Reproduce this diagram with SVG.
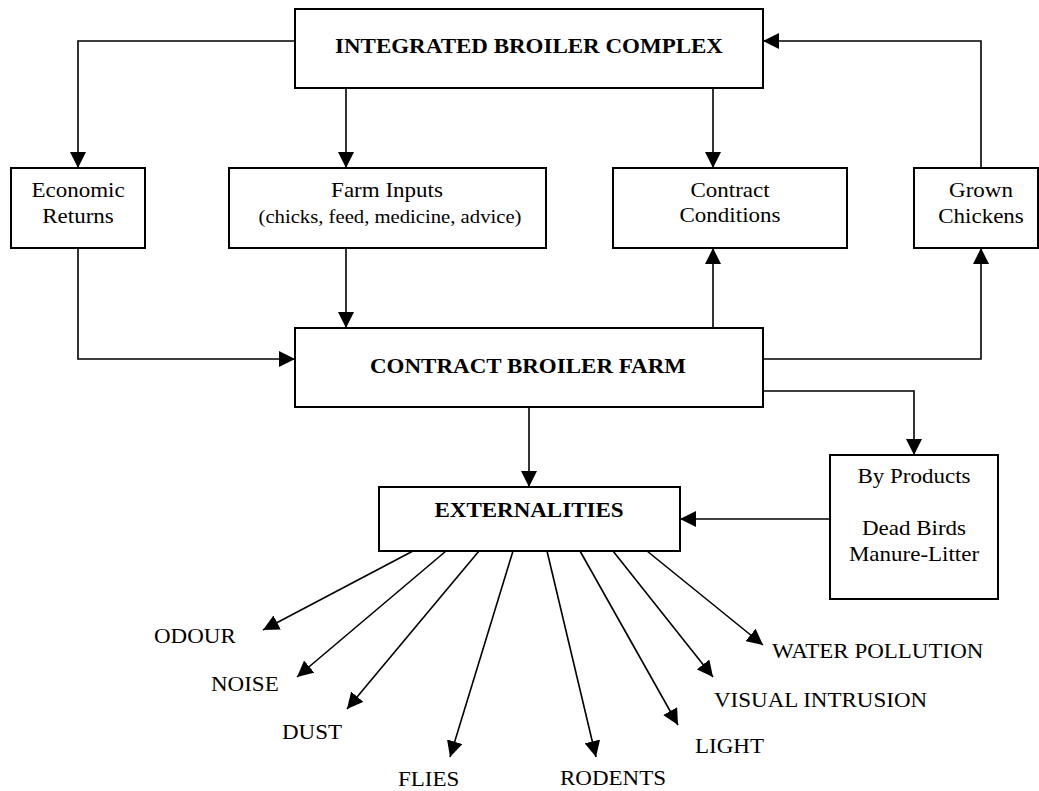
<svg xmlns="http://www.w3.org/2000/svg" width="1039" height="791" viewBox="0 0 1039 791">
  <style>
    .box { fill: #ffffff; stroke: #000000; stroke-width: 2; }
    .link { fill: none; stroke: #000000; stroke-width: 1.6; marker-end: url(#head); }
    .t { font-family: "Liberation Serif", "Times New Roman", serif; font-size: 20px; fill: #000000; }
    .c { text-anchor: middle; }
    .b { font-weight: bold; }
    .s { font-size: 18px; }
  </style>
  <defs>
    <marker id="head" viewBox="0 0 16 16" markerUnits="userSpaceOnUse" markerWidth="16" markerHeight="16" refX="16" refY="8" orient="auto">
      <path d="M0,0 L16,8 L0,16 z" fill="#000000"/>
    </marker>
  </defs>
  <rect width="1039" height="791" fill="#ffffff"/>

  <!-- connectors -->
  <g id="connectors">
    <path class="link" d="M295,41 H78 V168"/>
    <path class="link" d="M346,88 V168"/>
    <path class="link" d="M713,88 V168"/>
    <path class="link" d="M981,168 V41 H763"/>
    <path class="link" d="M78,248 V359 H295"/>
    <path class="link" d="M346,248 V328"/>
    <path class="link" d="M713,328 V248"/>
    <path class="link" d="M763,359 H981 V248"/>
    <path class="link" d="M763,391 H914 V455"/>
    <path class="link" d="M529,407 V487"/>
    <path class="link" d="M830,519 H680"/>
    <!-- externality fan -->
    <path class="link" d="M413,551 L263,630"/>
    <path class="link" d="M446,551 L297,677"/>
    <path class="link" d="M479,551 L347,709"/>
    <path class="link" d="M513,551 L450,757"/>
    <path class="link" d="M547,551 L596,757"/>
    <path class="link" d="M580,551 L678,725"/>
    <path class="link" d="M613,551 L713,677"/>
    <path class="link" d="M647,551 L763,645"/>
  </g>

  <g id="integrated-complex">
    <rect class="box" x="295" y="9" width="468" height="79"/>
    <text class="t b c" transform="translate(529 53) scale(1.15 1)">INTEGRATED BROILER COMPLEX</text>
  </g>

  <g id="economic-returns">
    <rect class="box" x="11" y="168" width="134" height="80"/>
    <text class="t c" transform="translate(78 197) scale(1.15 1)">Economic</text>
    <text class="t c" transform="translate(78 223) scale(1.15 1)">Returns</text>
  </g>

  <g id="farm-inputs">
    <rect class="box" x="229" y="168" width="317" height="80"/>
    <text class="t c" transform="translate(387 197) scale(1.15 1)">Farm Inputs</text>
    <text class="t s c" transform="translate(390 223) scale(1.15 1)">(chicks, feed, medicine, advice)</text>
  </g>

  <g id="contract-conditions">
    <rect class="box" x="613" y="168" width="234" height="80"/>
    <text class="t c" transform="translate(730 197) scale(1.15 1)">Contract</text>
    <text class="t c" transform="translate(730 222) scale(1.15 1)">Conditions</text>
  </g>

  <g id="grown-chickens">
    <rect class="box" x="914" y="168" width="124" height="80"/>
    <text class="t c" transform="translate(981 197) scale(1.15 1)">Grown</text>
    <text class="t c" transform="translate(981 223) scale(1.15 1)">Chickens</text>
  </g>

  <g id="contract-farm">
    <rect class="box" x="295" y="328" width="468" height="79"/>
    <text class="t b c" transform="translate(528 373) scale(1.15 1)">CONTRACT BROILER FARM</text>
  </g>

  <g id="by-products">
    <rect class="box" x="830" y="455" width="168" height="144"/>
    <text class="t c" transform="translate(914 483) scale(1.15 1)">By Products</text>
    <text class="t c" transform="translate(914 535) scale(1.15 1)">Dead Birds</text>
    <text class="t c" transform="translate(914 561) scale(1.15 1)">Manure-Litter</text>
  </g>

  <g id="externalities">
    <rect class="box" x="379" y="487" width="301" height="64"/>
    <text class="t b c" transform="translate(529 517) scale(1.15 1)">EXTERNALITIES</text>
  </g>

  <g id="externality-labels">
    <text class="t" transform="translate(154 643) scale(1.15 1)">ODOUR</text>
    <text class="t" transform="translate(211 691) scale(1.15 1)">NOISE</text>
    <text class="t" transform="translate(282 739) scale(1.15 1)">DUST</text>
    <text class="t" transform="translate(398 786) scale(1.15 1)">FLIES</text>
    <text class="t" transform="translate(560 785) scale(1.15 1)">RODENTS</text>
    <text class="t" transform="translate(695 753) scale(1.15 1)">LIGHT</text>
    <text class="t" transform="translate(714 707) scale(1.15 1)">VISUAL INTRUSION</text>
    <text class="t" transform="translate(772 658) scale(1.15 1)">WATER POLLUTION</text>
  </g>
</svg>
